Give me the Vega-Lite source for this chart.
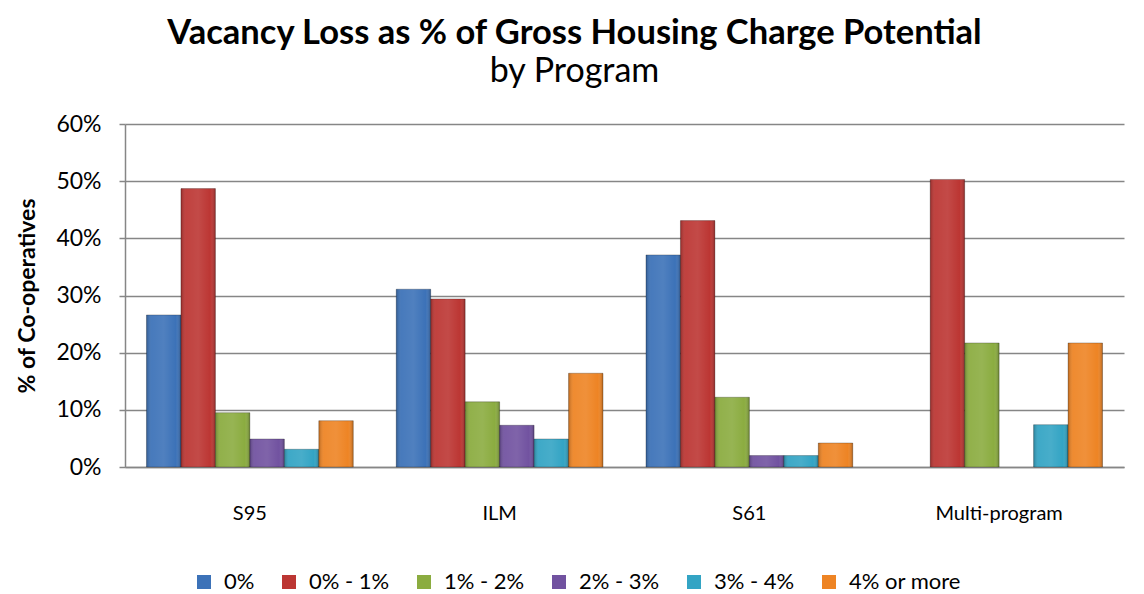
{
  "$schema": "https://vega.github.io/schema/vega-lite/v6.json",
  "width": 999,
  "height": 343,
  "autosize": "none",
  "padding": {"left": 125, "top": 124, "right": 20, "bottom": 127},
  "background": "white",
  "title": {
    "text": "Vacancy Loss as % of Gross Housing Charge Potential",
    "subtitle": "by Program",
    "anchor": "middle",
    "frame": "group",
    "dx": -50,
    "offset": 23,
    "font": "Lato",
    "fontSize": 34.5,
    "fontWeight": "bold",
    "color": "black",
    "subtitleFont": "Lato",
    "subtitleFontSize": 34,
    "subtitleColor": "black",
    "subtitlePadding": 4
  },
  "config": {
    "view": {"stroke": null},
    "font": "Lato"
  },
  "data": {
    "values": [
      {"program": "S95", "range": "0%", "value": 0.266},
      {"program": "S95", "range": "0% - 1%", "value": 0.487},
      {"program": "S95", "range": "1% - 2%", "value": 0.095},
      {"program": "S95", "range": "2% - 3%", "value": 0.049},
      {"program": "S95", "range": "3% - 4%", "value": 0.031},
      {"program": "S95", "range": "4% or more", "value": 0.081},
      {"program": "ILM", "range": "0%", "value": 0.311},
      {"program": "ILM", "range": "0% - 1%", "value": 0.294},
      {"program": "ILM", "range": "1% - 2%", "value": 0.114},
      {"program": "ILM", "range": "2% - 3%", "value": 0.073},
      {"program": "ILM", "range": "3% - 4%", "value": 0.049},
      {"program": "ILM", "range": "4% or more", "value": 0.164},
      {"program": "S61", "range": "0%", "value": 0.371},
      {"program": "S61", "range": "0% - 1%", "value": 0.431},
      {"program": "S61", "range": "1% - 2%", "value": 0.122},
      {"program": "S61", "range": "2% - 3%", "value": 0.020},
      {"program": "S61", "range": "3% - 4%", "value": 0.020},
      {"program": "S61", "range": "4% or more", "value": 0.042},
      {"program": "Multi-program", "range": "0% - 1%", "value": 0.503},
      {"program": "Multi-program", "range": "1% - 2%", "value": 0.217},
      {"program": "Multi-program", "range": "3% - 4%", "value": 0.074},
      {"program": "Multi-program", "range": "4% or more", "value": 0.217}
    ]
  },
  "encoding": {
    "x": {
      "field": "program",
      "type": "nominal",
      "sort": ["S95", "ILM", "S61", "Multi-program"],
      "scale": {"paddingInner": 0.172, "paddingOuter": 0.086},
      "axis": {
        "title": null,
        "labelAngle": 0,
        "labelFontSize": 20,
        "labelColor": "black",
        "labelPadding": 36,
        "ticks": false,
        "domainColor": "#868686",
        "domainWidth": 1.5
      }
    },
    "xOffset": {
      "field": "range",
      "type": "nominal",
      "scale": {"domain": ["0%", "0% - 1%", "1% - 2%", "2% - 3%", "3% - 4%", "4% or more"], "paddingInner": 0, "paddingOuter": 0}
    },
    "y": {
      "field": "value",
      "type": "quantitative",
      "scale": {"domain": [0, 0.6], "nice": false},
      "axis": {
        "title": "% of Co-operatives",
        "titleFontSize": 23,
        "titleFontWeight": "bold",
        "titleColor": "black",
        "titlePadding": 16,
        "format": ".0%",
        "values": [0, 0.1, 0.2, 0.3, 0.4, 0.5, 0.6],
        "labelFontSize": 23,
        "labelColor": "black",
        "labelPadding": 18,
        "tickSize": 6,
        "tickColor": "#868686",
        "tickWidth": 1.5,
        "domainColor": "#868686",
        "domainWidth": 1.5,
        "gridColor": "#868686",
        "gridWidth": 1.5
      }
    }
  },
  "layer": [
    {
      "mark": {"type": "bar", "stroke": "rgba(0,0,0,0.25)", "strokeWidth": 1},
      "encoding": {
        "color": {
          "field": "range",
          "type": "nominal",
          "scale": {
            "domain": ["0%", "0% - 1%", "1% - 2%", "2% - 3%", "3% - 4%", "4% or more"],
            "range": ["#3C72B8", "#BC3633", "#8BAC40", "#7152A0", "#33A4C4", "#EE8424"]
          },
          "legend": {
            "title": null,
            "orient": "none",
            "direction": "horizontal",
            "legendX": 68,
            "legendY": 447,
            "symbolType": "square",
            "symbolSize": 196,
            "symbolStrokeWidth": 0,
            "symbolOpacity": 1,
            "labelFontSize": 22,
            "labelColor": "black",
            "labelOffset": 9,
            "columnPadding": 23
          }
        }
      }
    },
    {
      "mark": {
        "type": "bar",
        "color": {
          "gradient": "linear",
          "x1": 0, "x2": 1, "y1": 0, "y2": 0,
          "stops": [
            {"offset": 0, "color": "rgba(0,0,0,0.22)"},
            {"offset": 0.15, "color": "rgba(255,255,255,0.06)"},
            {"offset": 0.5, "color": "rgba(255,255,255,0.1)"},
            {"offset": 0.85, "color": "rgba(255,255,255,0.0)"},
            {"offset": 1, "color": "rgba(0,0,0,0.25)"}
          ]
        }
      },
      "encoding": {}
    }
  ]
}
